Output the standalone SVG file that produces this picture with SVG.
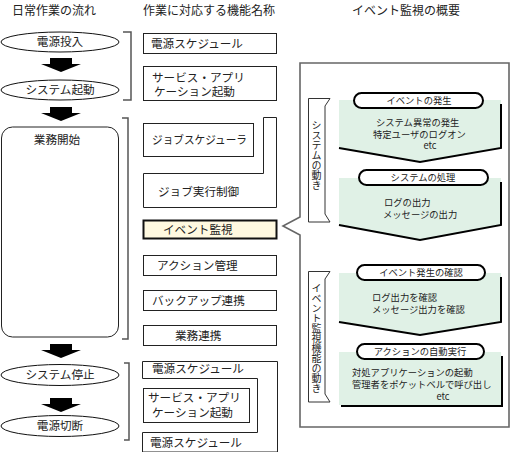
<svg xmlns="http://www.w3.org/2000/svg" width="512" height="452" viewBox="0 0 512 452">
<style>
text{font-family:"Noto Sans CJK JP","Liberation Sans",sans-serif;fill:#222;}
.h{font-size:12px;}
.t{font-size:11.6px;}
.s{font-size:9.3px;}
.c{text-anchor:middle;}
.v{font-size:10px;writing-mode:vertical-rl;}
.ell{fill:#fff;stroke:#111;stroke-width:1;}
.box{fill:#fff;stroke:#222;stroke-width:1;}
.brk{fill:none;stroke:#555;stroke-width:1.5;}
.arr{fill:#000;}
.grn{fill:#E0F1E6;stroke:none;}
.shd{fill:none;stroke:#000;stroke-width:2;}
.pill{fill:#fff;stroke:#000;stroke-width:2;}
.ban{fill:#fff;stroke:#333;stroke-width:1;}
</style>

<!-- headers -->
<text class="h" x="12" y="15">日常作業の流れ</text>
<text class="h" x="143" y="15">作業に対応する機能名称</text>
<text class="h" x="352" y="15">イベント監視の概要</text>

<!-- left flow -->
<g id="n-dengen-tounyu"><ellipse class="ell" cx="60" cy="42" rx="59" ry="10"/><text class="t c" x="60" y="46">電源投入</text></g>
<g id="n-system-kidou"><ellipse class="ell" cx="60" cy="90" rx="59" ry="10"/><text class="t c" x="60" y="94">システム起動</text></g>
<g id="n-gyoumu-kaishi"><rect class="box" x="1.5" y="127" width="117" height="210" rx="11"/><text class="t c" x="57" y="144">業務開始</text></g>
<g id="n-system-teishi"><ellipse class="ell" cx="60" cy="375" rx="59" ry="10.5"/><text class="t c" x="60" y="379">システム停止</text></g>
<g id="n-dengen-setsudan"><ellipse class="ell" cx="60" cy="426" rx="59" ry="10.5"/><text class="t c" x="60" y="430">電源切断</text></g>

<g id="connectors">
<path class="arr" d="M50,58H72V64H81L61,72L41,64H50Z"/>
<path class="arr" d="M50,107H72V113H81L61,121L41,113H50Z"/>
<path class="arr" d="M50,344H72V350H81L61,358L41,350H50Z"/>
<path class="arr" d="M50,398H72V404H81L61,412L41,404H50Z"/>
<path class="brk" d="M123,32H131V100H123"/>
<path class="brk" d="M122,118H128V339H122"/>
<path class="brk" d="M124,363H129V440H124"/>
</g>

<!-- middle column -->
<g id="m-dengen-sched"><rect class="box" x="143.5" y="33.5" width="133" height="20"/><text class="t" x="151" y="48">電源スケジュール</text></g>
<g id="m-service-app"><rect class="box" x="143.5" y="66.5" width="133" height="34"/><text class="t" x="152" y="82">サービス・アプリ</text><text class="t" x="154" y="96">ケーション起動</text></g>
<g id="m-job-exec"><path class="box" d="M263.5,117.5H276.5V207.5H143.5V173.5H263.5Z"/><text class="t" x="158" y="196">ジョブ実行制御</text></g>
<g id="m-job-sched"><rect class="box" x="143.5" y="123.5" width="110" height="33"/><text class="t" x="152" y="144" textLength="95" lengthAdjust="spacingAndGlyphs">ジョブスケジューラ</text></g>
<g id="m-event"><rect x="143.5" y="220.5" width="133" height="18" fill="#FFF9E0" stroke="#111" stroke-width="2"/><text class="t" x="163" y="234">イベント監視</text></g>
<g id="m-action"><rect class="box" x="143.5" y="255.5" width="133" height="20"/><text class="t" x="157" y="270">アクション管理</text></g>
<g id="m-backup"><rect class="box" x="143.5" y="290.5" width="133" height="20"/><text class="t" x="152" y="305">バックアップ連携</text></g>
<g id="m-gyoumu"><rect class="box" x="143.5" y="325.5" width="133" height="20"/><text class="t" x="175" y="340">業務連携</text></g>
<g id="m-dengen-sched-2"><path class="box" d="M142.5,361.5H277.5V452H142.5V432.5H257.5V378.5H142.5Z"/><text class="t" x="152" y="373">電源スケジュール</text><text class="t" x="150" y="447">電源スケジュール</text></g>
<g id="m-service-app-2"><rect class="box" x="143.5" y="388.5" width="106" height="34"/><text class="t" x="148" y="402">サービス・アプリ</text><text class="t" x="152" y="417">ケーション起動</text></g>

<!-- right panel -->
<g id="overview-panel">
<path d="M300,217V63H509V427H300V235L283,226Z" fill="#fff" stroke="#666" stroke-width="1.6"/>
</g>

<g id="b-system">
<path class="ban" d="M308.5,98.5H330L325,106V214L330,222H308.5Z"/>
<text class="v" x="316.5" y="120">システムの動き</text>
</g>
<g id="b-event">
<path class="ban" d="M308.5,271.5H330L325,279V394L330,402H308.5Z"/>
<text class="v" x="316.5" y="283">イベント監視機能の動き</text>
</g>

<g id="g-event-occur">
<path class="grn" d="M339,100H501V148L420,162L339,148Z"/>
<path class="shd" d="M501,104V148L420,162L339,148"/>
<rect class="pill" x="354" y="93" width="129" height="15" rx="7.5"/>
<text class="s c" x="419" y="104">イベントの発生</text>
<text class="s" x="376" y="126">システム異常の発生</text>
<text class="s" x="373" y="138">特定ユーザのログオン</text>
<text class="s c" x="430" y="149">etc</text>
</g>
<g id="g-system-proc">
<path class="grn" d="M339,178H501V225L420,240L339,225Z"/>
<path class="shd" d="M501,182V225L420,240L339,225"/>
<rect class="pill" x="359" y="170" width="129" height="15" rx="7.5"/>
<text class="s c" x="423" y="181">システムの処理</text>
<text class="s" x="384" y="206">ログの出力</text>
<text class="s" x="383" y="218">メッセージの出力</text>
</g>
<g id="g-event-confirm">
<path class="grn" d="M339,273H501V322L420,335L339,322Z"/>
<path class="shd" d="M501,277V322L420,335L339,322"/>
<rect class="pill" x="357" y="265" width="128" height="15" rx="7.5"/>
<text class="s c" x="421" y="276">イベント発生の確認</text>
<text class="s" x="372" y="301">ログ出力を確認</text>
<text class="s" x="372" y="313">メッセージ出力を確認</text>
</g>
<g id="g-action-auto">
<rect class="grn" x="339" y="352" width="162" height="53"/>
<path class="shd" d="M502,356V406H341"/>
<rect class="pill" x="357" y="344" width="127" height="15" rx="7.5"/>
<text class="s c" x="420" y="355">アクションの自動実行</text>
<text class="s" x="352" y="376">対処アプリケーションの起動</text>
<text class="s" x="352" y="388">管理者をポケットベルで呼び出し</text>
<text class="s c" x="443" y="400">etc</text>
</g>
</svg>
